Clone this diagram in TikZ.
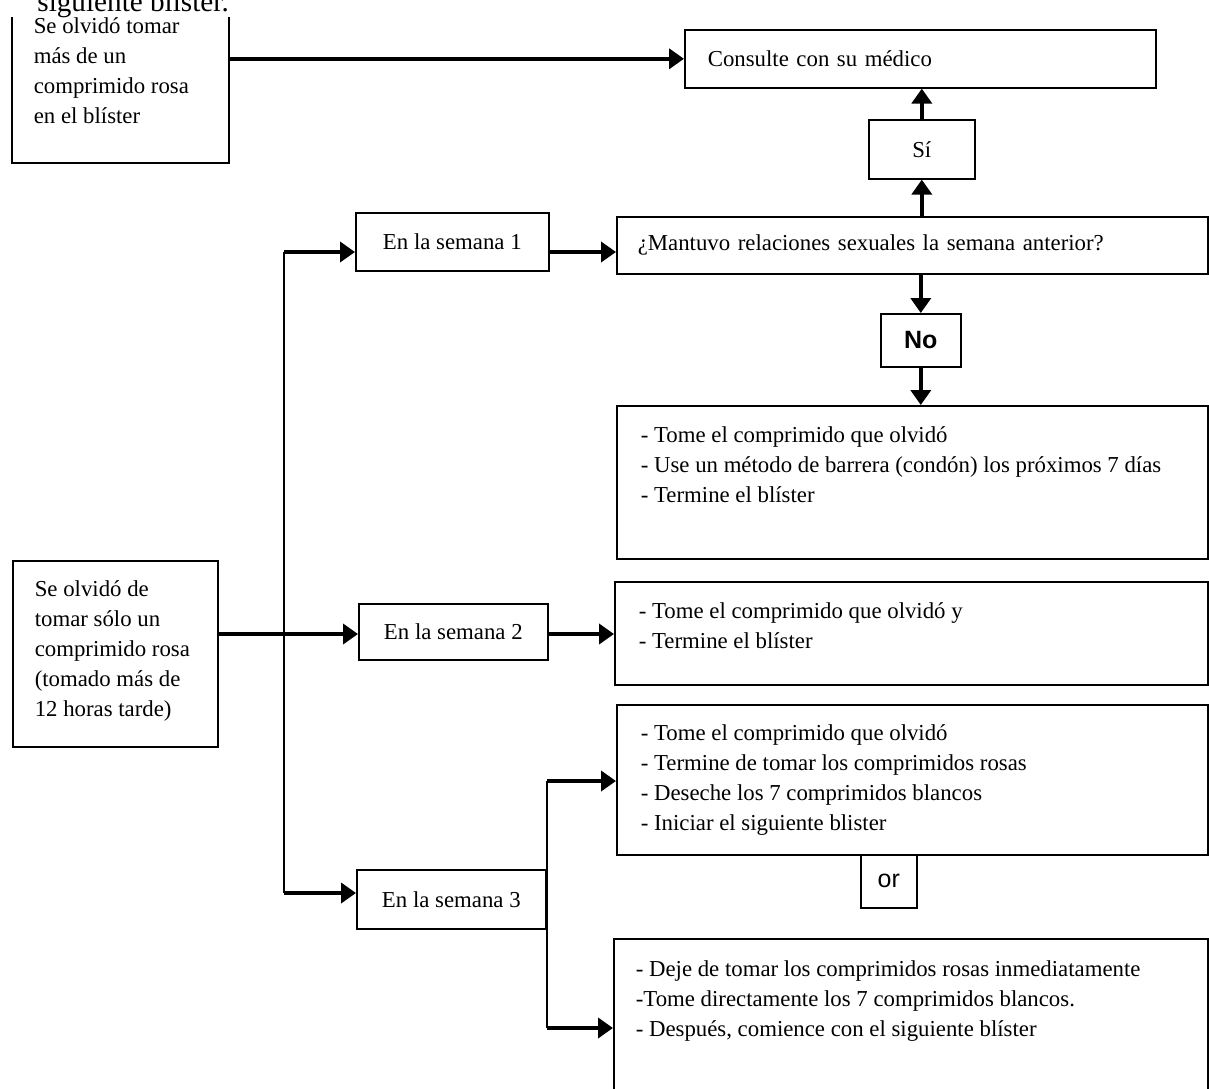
\documentclass[tikz,border=0pt]{standalone}
\usepackage{fontspec}
\setmainfont{Liberation Serif}
\setsansfont{Liberation Sans}
\usetikzlibrary{arrows.meta}

% text block with fixed height, text at the top
\newcommand{\cajatexto}[4]{\parbox[t][#2][t]{#1}{\vspace*{#3}\strut#4}}

\tikzset{
    caja/.style={draw, line width=0.8pt, inner ysep=0pt, inner xsep=11pt, anchor=north west,
        font=\fontsize{11.4}{15}\selectfont},
    respuesta/.style={caja, inner xsep=0pt, font=\sffamily\fontsize{12.5}{14}\selectfont},
    flecha/.style={line width=2pt, -{Triangle[length=7.5pt,width=10pt]}},
    tronco/.style={line width=1.1pt}
    }

\begin{document}
\begin{tikzpicture}[x=0.5pt,y=-0.5pt]
    \useasboundingbox (0,0) rectangle (1209,1088);
    % Boxes on the left
    \node[caja] (olvidoVarios) at (11,8)
        {\cajatexto{86.5pt}{77pt}{2pt}{Se olvidó tomar\\ más de un\\ comprimido rosa\\ en el blíster}};
    \node[anchor=base west, fill=white, inner xsep=13.5pt, inner ysep=0pt,
        font=\fontsize{14.6}{16}\selectfont] (resto) at (10,11) {siguiente blíster.};
    \node[caja] (olvidoUno) at (12,560)
        {\cajatexto{80.5pt}{93pt}{7.5pt}{Se olvidó de\\ tomar sólo un\\ comprimido rosa\\ (tomado más de\\ 12 horas tarde)}};
    % Weeks
    \node[caja, inner xsep=0pt, minimum width=96.5pt, minimum height=29pt] (sem1) at (355,212) {En la semana 1};
    \node[caja, inner xsep=0pt, minimum width=94.5pt, minimum height=28pt] (sem2) at (358,603) {En la semana 2};
    \node[caja, inner xsep=0pt, minimum width=94.5pt, minimum height=29.5pt] (sem3) at (356,869) {En la semana 3};
    % Right column
    \node[caja, text width=212.5pt, inner xsep=11.5pt, minimum height=29pt, align=left] (consulta) at (684,29)
        {Consulte con su médico};
    \node[caja, inner xsep=0pt, minimum width=53pt, minimum height=29.5pt] (si) at (868,119) {Sí};
    \node[caja, text width=274.5pt, inner xsep=10.5pt, minimum height=28.5pt, align=left] (pregunta) at (616,216)
        {¿Mantuvo relaciones sexuales la semana anterior?};
    \node[respuesta, font=\sffamily\bfseries\fontsize{12.5}{14}\selectfont,
        minimum width=40pt, minimum height=26.5pt] (no) at (880,313) {No};
    \node[caja, inner xsep=12pt] (res1) at (616,405)
        {\cajatexto{271.5pt}{76.5pt}{8pt}{- Tome el comprimido que olvidó\\
        - Use un método de barrera (condón) los próximos 7 días\\ - Termine el blíster}};
    \node[caja, inner xsep=12pt] (res2) at (614,581)
        {\cajatexto{272.5pt}{51.5pt}{8pt}{- Tome el comprimido que olvidó y\\ - Termine el blíster}};
    \node[caja, inner xsep=12pt] (res3) at (616,704)
        {\cajatexto{271.5pt}{75pt}{7.5pt}{- Tome el comprimido que olvidó\\ - Termine de tomar los comprimidos rosas\\
        - Deseche los 7 comprimidos blancos\\ - Iniciar el siguiente blister}};
    \node[respuesta, minimum width=28pt, minimum height=26.5pt] (or) at (860,854) {or};
    \node[caja] (res4) at (613,938)
        {\cajatexto{275pt}{81pt}{8.5pt}{- Deje de tomar los comprimidos rosas inmediatamente\\
        -Tome directamente los 7 comprimidos blancos.\\ - Después, comience con el siguiente blíster}};

    % Connectors
    \coordinate (t1) at (284,252);
    \coordinate (t2) at (284,634);
    \coordinate (t3) at (284,893);
    \coordinate (r3) at (547,781);
    \coordinate (r4) at (547,1028);
    \draw[flecha] (olvidoVarios.east |- consulta.west) -- (consulta.west);
    \draw[tronco] (t1) -- (t3);
    \draw[flecha] (t1) -- (t1 -| sem1.west);
    \draw[flecha] (olvidoUno.east |- t2) -- (t2 -| sem2.west);
    \draw[flecha] (t3) -- (t3 -| sem3.west);
    \draw[flecha] (sem1.east |- t1) -- (t1 -| pregunta.west);
    \draw[flecha] (sem2.east |- t2) -- (t2 -| res2.west);
    \draw[flecha] (si.south |- pregunta.north) -- (si.south);
    \draw[flecha] (si.north) -- (si.north |- consulta.south);
    \draw[flecha] (no.north |- pregunta.south) -- (no.north);
    \draw[flecha] (no.south) -- (no.south |- res1.north);
    \draw[tronco] (r3) -- (r4);
    \draw[flecha] (r3) -- (r3 -| res3.west);
    \draw[flecha] (r4) -- (r4 -| res4.west);
\end{tikzpicture}
\end{document}
